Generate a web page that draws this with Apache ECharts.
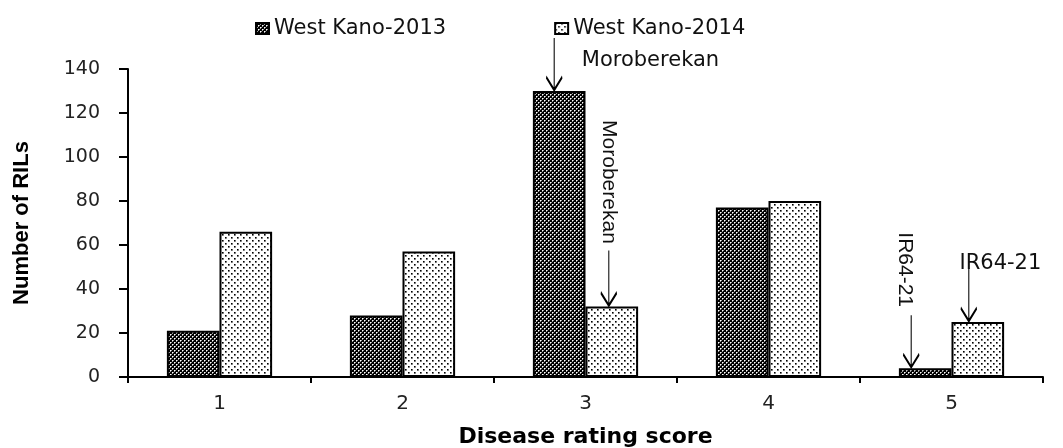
<!DOCTYPE html>
<html>
<head>
<meta charset="utf-8">
<script src="https://cdn.jsdelivr.net/npm/echarts@6/dist/echarts.min.js"></script>
<style>
html,body{margin:0;padding:0;background:#fff;}
#chart{width:1063px;height:448px;}
</style>
</head>
<body>
<div id="chart"></div>
<script>
// ---- data ----
const categories = ['1', '2', '3', '4', '5'];
const seriesNames = ['West Kano-2013', 'West Kano-2014'];
const westKano2013 = [21, 28, 130, 77, 4];
const westKano2014 = [66, 57, 32, 80, 25];
const yMin = 0, yMax = 140, yStep = 20;
const xTitle = 'Disease rating score';
const yTitle = 'Number of RILs';
// annotations: category, label text
const notes2013 = [
  { cat: '3', text: 'Moroberekan' },
  { cat: '5', text: 'IR64-21' }
];
const notes2014 = [
  { cat: '3', text: 'Moroberekan' },
  { cat: '5', text: 'IR64-21' }
];

// ---- styling helpers ----
function makePattern(size, bg, pixels) {
  const c = document.createElement('canvas');
  c.width = size; c.height = size;
  const g = c.getContext('2d');
  g.fillStyle = bg; g.fillRect(0, 0, size, size);
  pixels.forEach(p => { g.fillStyle = p[2]; g.fillRect(p[0], p[1], 1, 1); });
  return { image: c, repeat: 'repeat' };
}
const darkPattern = makePattern(4, '#000', [
  [0,0,'#fff'],[2,2,'#fff'],
  [1,0,'#999'],[0,1,'#999'],[3,2,'#999'],[2,3,'#999']
]);
const lightPattern = makePattern(6, '#fff', [
  [0,0,'#000'],[1,0,'#666'],[0,1,'#666'],[1,1,'#999'],
  [3,3,'#000'],[4,3,'#666'],[3,4,'#666'],[4,4,'#999']
]);

function arrowPath(len) {
  return 'path://M8,0L8,' + len + 'M0,' + (len - 13) + 'L8,' + len + 'L16,' + (len - 13);
}
// layout of each annotation (pixel styling only)
const noteStyle2013 = [
  { len: 52, dx: -5, label: { position: [37, 27], rotate: 0, align: 'left', fontFamily: 'DejaVu Sans', fontSize: 21 } },
  { len: 52, dx: -14, label: { position: [3, -41], rotate: -90, align: 'center', fontFamily: 'Liberation Sans', fontSize: 21 } }
];
const noteStyle2014 = [
  { len: 55, dx: -3, label: { position: [9, -64], rotate: -90, align: 'center', fontFamily: 'Liberation Sans', fontSize: 21 } },
  { len: 53, dx: -9, label: { position: [41, 0], rotate: 0, align: 'center', fontFamily: 'DejaVu Sans', fontSize: 21 } }
];

function buildMarks(notes, styles, values) {
  return notes.map((n, i) => {
    const s = styles[i];
    const v = values[categories.indexOf(n.cat)];
    return {
      coord: [n.cat, v],
      symbol: arrowPath(s.len),
      symbolSize: [16, s.len],
      symbolKeepAspect: false,
      symbolOffset: [s.dx, -(s.len / 2 + 1)],
      itemStyle: { color: 'none', borderColor: '#000', borderWidth: 1.9 },
      label: {
        show: true,
        formatter: n.text,
        position: s.label.position,
        rotate: s.label.rotate,
        align: s.label.align,
        verticalAlign: 'middle',
        color: '#111',
        fontFamily: s.label.fontFamily,
        fontSize: s.label.fontSize
      }
    };
  });
}

const chart = echarts.init(document.getElementById('chart'), null, { renderer: 'canvas' });
const option = {
  animation: false,
  backgroundColor: '#fff',
  legend: {
    data: seriesNames,
    left: 250,
    top: 13,
    itemWidth: 13,
    itemHeight: 11,
    itemGap: 108,
    icon: 'rect',
    textStyle: { fontFamily: 'DejaVu Sans', fontSize: 21, color: '#111' },
    selectedMode: false
  },
  grid: { left: 128, right: 20, top: 69, bottom: 71, containLabel: false, outerBoundsMode: 'none' },
  xAxis: {
    type: 'category',
    data: categories,
    name: xTitle,
    nameLocation: 'middle',
    nameGap: 49,
    nameTextStyle: { fontFamily: 'DejaVu Sans', fontWeight: 'bold', fontSize: 22, color: '#000' },
    axisLine: { lineStyle: { color: '#000', width: 2 } },
    axisTick: { show: true, length: 6, lineStyle: { color: '#000', width: 2 }, alignWithLabel: false },
    axisLabel: { margin: 17, fontFamily: 'DejaVu Sans', fontSize: 20, color: '#222' },
    splitLine: { show: false }
  },
  yAxis: {
    type: 'value',
    min: yMin, max: yMax, interval: yStep,
    name: yTitle,
    nameLocation: 'middle',
    nameGap: 95,
    nameTextStyle: { fontFamily: 'Liberation Sans', fontWeight: 'bold', fontSize: 22, color: '#000' },
    axisLine: { show: true, lineStyle: { color: '#000', width: 2 } },
    axisTick: { show: true, length: 9, lineStyle: { color: '#000', width: 2 } },
    axisLabel: { margin: 28, fontFamily: 'DejaVu Sans', fontSize: 19, color: '#222' },
    splitLine: { show: false }
  },
  series: [
    {
      name: seriesNames[0],
      type: 'bar',
      data: westKano2013,
      barGap: '0%',
      barCategoryGap: '42.5%',
      itemStyle: { color: darkPattern, borderColor: '#000', borderWidth: 2 },
      emphasis: { disabled: true },
      markPoint: { silent: true, animation: false, data: buildMarks(notes2013, noteStyle2013, westKano2013) }
    },
    {
      name: seriesNames[1],
      type: 'bar',
      data: westKano2014,
      barGap: '0%',
      barCategoryGap: '42.5%',
      itemStyle: { color: lightPattern, borderColor: '#000', borderWidth: 2 },
      emphasis: { disabled: true },
      markPoint: { silent: true, animation: false, data: buildMarks(notes2014, noteStyle2014, westKano2014) }
    }
  ]
};
chart.setOption(option);
</script>
</body>
</html>
